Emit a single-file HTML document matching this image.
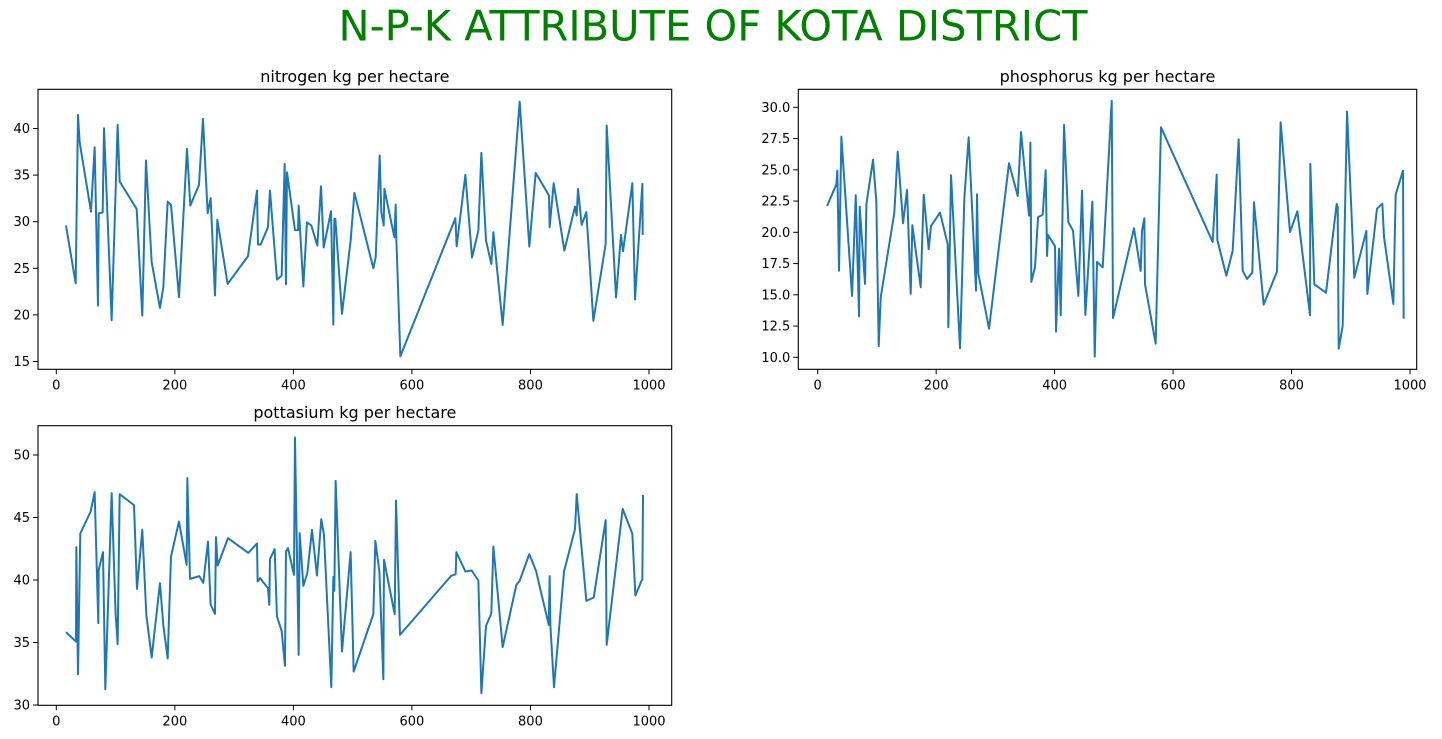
<!DOCTYPE html>
<html><head><meta charset="utf-8"><style>
html,body{margin:0;padding:0;background:#fff;}
svg{display:block;font-family:"DejaVu Sans","Liberation Sans",sans-serif;}
</style></head><body>
<svg id="fig" width="1442" height="739" viewBox="0 0 1442 739" xmlns="http://www.w3.org/2000/svg">
<text x="713" y="40.7" text-anchor="middle" font-size="42" fill="#008000" textLength="749" lengthAdjust="spacingAndGlyphs">N-P-K ATTRIBUTE OF KOTA DISTRICT</text>
</svg>
<script>
const nX=[16.3,32.7,36.6,39.4,58.5,64.7,70.3,71.5,78.2,80.5,93.4,103.5,106.9,135.6,145.1,151.3,160.9,174.9,180.6,187.9,193.5,207.0,220.5,226.1,240.7,247.5,255.4,260.4,267.7,271.7,289.1,323.4,338.6,340.3,344.8,357.1,360.5,372.3,380.2,385.3,387.5,389.2,402.7,407.8,408.9,416.8,422.9,430.3,440.4,446.6,451.1,463.5,467.4,469.1,470.8,482.0,496.6,503.0,534.9,538.9,545.6,548.4,552.4,553.5,570.4,572.6,573.7,580.5,673.3,675.5,690.2,701.4,712.1,717.2,725.0,734.0,737.4,753.1,781.8,798.1,808.8,831.3,832.4,839.2,857.2,875.2,878.0,880.2,886.4,894.3,906.1,926.9,928.6,944.4,952.8,956.2,971.9,976.4,988.8,989.4];
const nY=[29.59,23.40,41.46,38.53,31.09,37.99,21.0,30.91,30.98,40.03,19.43,40.39,34.31,31.37,19.93,36.56,25.65,20.75,22.97,32.16,31.80,21.90,37.81,31.73,33.95,41.03,30.91,32.52,22.08,30.19,23.33,26.30,33.34,27.55,27.55,29.41,33.34,23.79,24.22,36.20,23.29,35.31,29.09,29.09,31.73,23.04,29.94,29.59,27.44,33.81,27.23,31.12,18.96,30.30,30.30,20.11,27.98,33.1,25.01,26.19,37.10,31.02,29.59,33.52,28.33,31.84,28.16,15.56,30.37,27.37,35.02,26.15,29.05,37.38,27.98,25.47,28.87,18.93,42.89,27.33,35.24,32.81,29.41,34.13,26.90,31.62,30.66,33.52,29.66,31.02,19.36,27.62,40.32,21.86,28.59,26.83,34.13,21.65,34.06,28.59];
const pX=[15.8,31.5,33.2,36.0,40.0,58.0,64.2,69.8,70.9,79.9,82.2,93.4,99.0,103.0,106.4,129.4,135.1,144.1,150.8,157.0,159.8,173.9,179.0,187.4,191.3,206.5,219.5,220.6,225.1,240.3,247.6,254.9,267.3,269.0,271.2,289.3,323.0,337.7,343.3,356.8,359.1,360.7,366.9,372.0,379.9,384.9,387.2,388.9,400.7,402.4,407.5,410.3,415.9,423.2,431.1,440.1,446.3,451.9,463.7,467.7,471.6,481.2,496.4,498.6,534.0,545.3,547.5,551.5,552.6,570.6,579.6,666.8,673.6,674.7,689.9,700.6,710.7,717.5,724.8,733.8,736.6,752.9,775.4,781.6,797.4,809.8,831.2,831.7,838.5,858.2,876.2,877.9,879.6,886.3,893.7,906.0,926.3,928.0,944.3,953.3,956.1,971.9,975.8,988.2,989.3];
const pY=[22.11,23.84,24.93,16.93,27.65,14.91,22.96,13.28,22.05,15.87,22.24,25.81,22.45,10.90,14.80,21.57,26.45,20.72,23.39,15.07,20.56,15.60,23.01,18.64,20.51,21.57,19.04,12.40,24.56,10.72,22.72,27.60,15.33,23.04,16.69,12.29,25.52,22.91,28.03,21.33,27.17,16.03,17.20,21.20,21.41,24.96,18.11,19.79,18.88,12.05,18.69,13.36,28.59,20.80,20.13,14.91,23.33,13.39,22.45,10.05,17.63,17.20,30.51,13.14,20.32,16.91,20.11,21.12,15.84,11.09,28.40,19.23,24.61,19.39,16.53,18.50,27.44,16.93,16.27,16.77,22.40,14.21,16.85,28.80,20.02,21.68,13.36,25.47,15.84,15.17,22.27,22.05,10.69,12.50,29.65,16.37,20.11,15.07,21.89,22.29,19.65,14.27,23.01,24.93,13.09];
const kX=[16.3,33.2,33.8,36.6,40.5,58.0,64.7,70.9,71.5,78.8,82.7,93.4,100.1,103.5,106.9,131.1,136.1,145.1,151.9,160.9,174.9,180.6,187.9,193.5,207.0,219.9,221.1,225.6,241.3,248.0,255.9,260.4,267.7,269.4,272.2,289.7,324.0,338.6,339.7,343.7,357.1,359.4,360.5,368.4,372.3,380.2,385.8,387.5,390.9,401.0,402.7,408.9,410.6,416.8,423.5,431.4,439.8,447.1,451.6,464.0,467.4,469.1,471.3,482.0,496.6,501.7,534.9,538.3,545.1,551.8,552.9,570.9,573.2,579.9,666.0,673.8,675.0,690.2,700.8,712.1,717.2,725.0,734.0,737.4,753.1,776.2,781.8,798.1,809.4,830.8,832.4,833.6,839.7,856.6,875.2,878.0,894.3,906.7,926.9,928.6,955.6,971.9,977.0,988.8,989.9];
const kY=[35.83,35.08,42.63,32.46,43.72,45.48,47.03,36.55,40.81,42.23,31.26,46.95,37.27,34.87,46.87,45.99,39.29,44.01,37.21,33.80,39.75,36.36,33.72,41.88,44.68,41.21,48.15,40.09,40.31,39.77,43.08,38.04,37.29,43.43,41.16,43.35,42.17,42.92,39.88,40.15,39.35,38.01,41.67,42.47,37.08,35.93,33.13,42.28,42.55,40.41,51.40,34.01,43.75,39.53,40.55,44.01,40.36,44.87,43.61,31.42,40.25,39.13,47.93,34.28,42.23,32.68,37.27,43.13,40.68,32.06,41.61,37.27,46.36,35.61,40.33,40.47,42.23,40.68,40.76,39.96,30.94,36.33,37.32,42.68,34.63,39.61,39.93,42.07,40.73,36.41,40.31,36.41,31.42,40.68,44.09,46.87,38.33,38.60,44.79,34.81,45.69,43.69,38.76,40.09,46.81];
const xTicks=[0,200,400,600,800,1000];
const nTicks=[15,20,25,30,35,40];
const pTicks=[10,12.5,15,17.5,20,22.5,25,27.5,30];
const kTicks=[30,35,40,45,50];

const svg=document.getElementById('fig');
const NS='http://www.w3.org/2000/svg';
function mk(tag,attrs){const e=document.createElementNS(NS,tag);for(const k in attrs)e.setAttribute(k,attrs[k]);svg.appendChild(e);return e;}

function panel(cfg){
  const {name,title,box,sx,sy,xs,ys,yt,dec}=cfg;
  const t=mk('text',{x:(box[0]+box[2])/2,y:box[1]-7.5,'text-anchor':'middle','font-size':'16',fill:'#000'});
  t.textContent=title;
  
  
  let d='';
  for(let i=0;i<xs.length;i++){d+=(i?'L':'M')+sx(xs[i]).toFixed(2)+' '+sy(ys[i]).toFixed(2);}
  const p=mk('path',{d:d,fill:'none',stroke:'#1f77b4','stroke-width':'2','stroke-linejoin':'round'});
  
  
  const r=mk('rect',{x:box[0],y:box[1],width:box[2]-box[0],height:box[3]-box[1],fill:'none',stroke:'#000','stroke-width':'1.1'});
  
  
  xTicks.forEach(v=>{
    const x=sx(v);
    const l=mk('line',{x1:x,x2:x,y1:box[3],y2:box[3]+5,stroke:'#000','stroke-width':'1'});
    
    
    const tx=mk('text',{x:x,y:box[3]+20,'text-anchor':'middle','font-size':'13',fill:'#000'});
    tx.textContent=String(v);
    
    
  });
  yt.forEach(v=>{
    const y=sy(v);
    const l=mk('line',{x1:box[0]-5,x2:box[0],y1:y,y2:y,stroke:'#000','stroke-width':'1'});
    
    
    const tx=mk('text',{x:box[0]-8,y:y+4.5,'text-anchor':'end','font-size':'13',fill:'#000'});
    tx.textContent=dec?v.toFixed(1):String(v);
    
    
  });
}
const sxL=v=>56.3+0.5927*v;
panel({name:'nitrogen',title:'nitrogen kg per hectare',box:[38,89.3,671.7,369.3],sx:sxL,sy:v=>361.5-(v-15)*9.32,xs:nX,ys:nY,yt:nTicks,dec:false});
panel({name:'phosphorus',title:'phosphorus kg per hectare',box:[798.3,89.3,1416.7,369.3],sx:v=>817.7+0.5923*v,sy:v=>107.3+(30-v)*12.5,xs:pX,ys:pY,yt:pTicks,dec:true});
panel({name:'potassium',title:'pottasium kg per hectare',box:[38,425.7,671.7,705.3],sx:sxL,sy:v=>705-(v-30)*12.5,xs:kX,ys:kY,yt:kTicks,dec:false});
</script>
</body></html>
